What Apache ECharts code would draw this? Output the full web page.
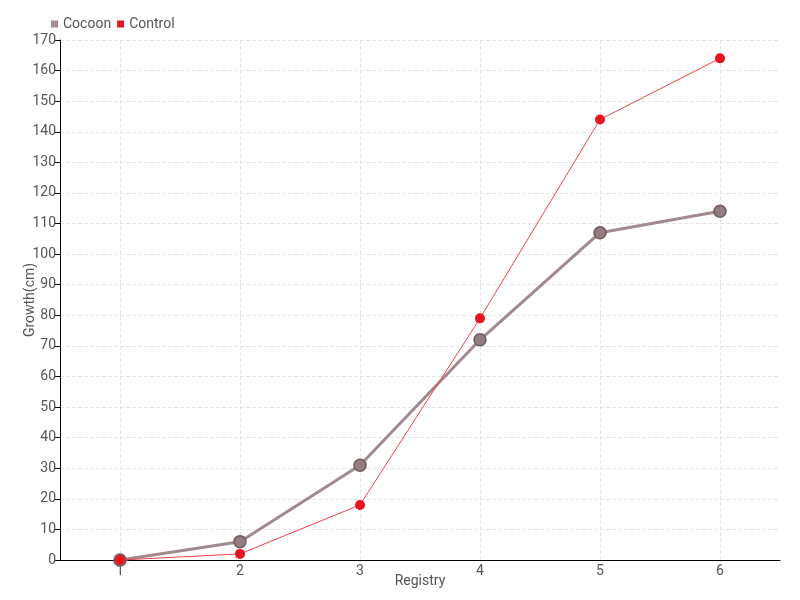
<!DOCTYPE html>
<html>
<head>
<meta charset="utf-8">
<script src="https://cdn.jsdelivr.net/npm/echarts@6/dist/echarts.min.js"></script>
<style>
  html, body { margin: 0; padding: 0; background: #fff; }
</style>
</head>
<body>
<div id="chart" style="width: 800px;height: 600px;"></div>
<script>
// growth per registry
var registries = ['1', '2', '3', '4', '5', '6']
var cocoon = [0, 6, 31, 72, 107, 114]
var control = [0, 2, 18, 79, 144, 164]

var font = 'Roboto, sans-serif'

var chart = echarts.init(document.getElementById('chart'))
var option = {
    textStyle: { fontFamily: font },
    legend: {
        left: 46,
        top: 12,
        itemWidth: 7,
        itemHeight: 7,
        itemGap: 6,
        icon: 'rect',
        textStyle: { fontFamily: font, fontSize: 14, color: '#555' },
        data: [
            { name: 'Cocoon', itemStyle: { color: '#a58c90', borderWidth: 0 } },
            { name: 'Control', itemStyle: { color: '#e8141e' } }
        ]
    },
    grid: { left: 60, right: 20, top: 40, bottom: 40, outerBoundsMode: 'none' },
    xAxis: {
        type: 'category',
        data: registries,
        name: 'Registry',
        nameLocation: 'middle',
        nameGap: 14,
        nameMoveOverlap: false,
        nameTextStyle: { fontFamily: font, fontSize: 14, color: '#555' },
        axisLine: { lineStyle: { color: '#000' } },
        axisTick: { alignWithLabel: true, lineStyle: { color: '#000' } },
        axisLabel: { fontFamily: font, fontSize: 14, color: '#555', margin: 4 },
        splitLine: { show: true, alignWithLabel: true, lineStyle: { color: '#e6e6e6', type: 'dashed' } }
    },
    yAxis: {
        type: 'value',
        min: 0,
        max: 170,
        interval: 10,
        name: 'Growth(cm)',
        nameLocation: 'middle',
        nameGap: 23,
        nameMoveOverlap: false,
        nameTextStyle: { fontFamily: font, fontSize: 14, color: '#555' },
        axisLine: { show: true, lineStyle: { color: '#000' } },
        axisTick: { show: true, lineStyle: { color: '#000' } },
        axisLabel: { fontFamily: font, fontSize: 14, color: '#555', margin: 4 },
        splitLine: { lineStyle: { color: '#e6e6e6', type: 'dashed' } }
    },
    series: [
        {
            name: 'Cocoon',
            type: 'line',
            data: cocoon,
            symbol: 'circle',
            symbolSize: 12,
            color: '#a58c90',
            lineStyle: { width: 3, color: '#a08a8e' },
            itemStyle: { color: '#957c80', borderColor: '#6f5a5e', borderWidth: 1.5 }
        },
        {
            name: 'Control',
            type: 'line',
            data: control,
            symbol: 'circle',
            symbolSize: 10,
            color: '#e8141e',
            lineStyle: { width: 1, color: '#f5404c' },
            itemStyle: { color: '#e8141e' }
        }
    ]
}
option && chart.setOption(option)
</script>
</body>
</html>
